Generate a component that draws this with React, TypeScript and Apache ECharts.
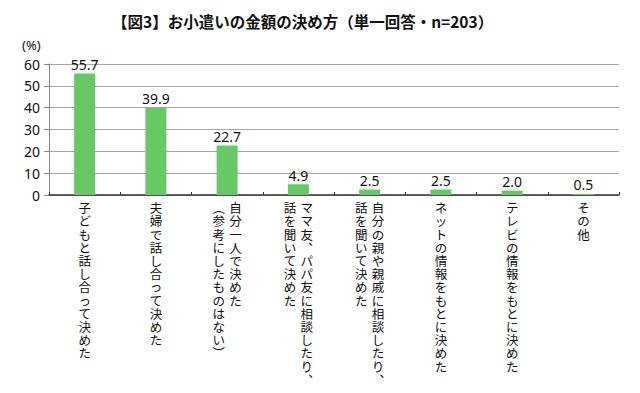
import React, { useEffect, useRef } from "react";
import * as echarts from "echarts";

const titleText = "【図3】お小遣いの金額の決め方（単一回答・n=203）";
const unitLabel = "(%)";
const categories = [
  "子どもと話し合って決めた",
  "夫婦で話し合って決めた",
  "自分一人で決めた\n(参考にしたものはない)",
  "ママ友、パパ友に相談したり、\n話を聞いて決めた",
  "自分の親や親戚に相談したり、\n話を聞いて決めた",
  "ネットの情報をもとに決めた",
  "テレビの情報をもとに決めた",
  "その他",
];
const values = [55.7, 39.9, 22.7, 4.9, 2.5, 2.5, 2.0, 0.5];
const yTicks = { min: 0, max: 60, interval: 10 };

const JP = "'Noto Sans CJK JP', 'Noto Sans', sans-serif";

const verticalForm = (c: string) =>
  c === "、" ? "︑" : c === "(" || c === "（" ? "︵" : c === ")" || c === "）" ? "︶" : c;

function toVertical(label: string): string {
  const cols = label.split("\n").map((s) => Array.from(s).map(verticalForm));
  const n = Math.max(...cols.map((c) => c.length));
  const lines: string[] = [];
  for (let i = 0; i < n; i++) {
    if (cols.length === 1) {
      lines.push(`{c|${cols[0][i]}}`);
    } else {
      const right = cols[0][i] ?? "　";
      const left = cols[1][i] ?? "　";
      lines.push(`{c|${left}}{c|${right}}`);
    }
  }
  return lines.join("\n");
}

export default function App() {
  const ref = useRef<HTMLDivElement>(null);
  useEffect(() => {
    if (!ref.current) return;
    const chart = echarts.init(ref.current, undefined, { renderer: "svg" });
    chart.setOption({
      animation: false,
      backgroundColor: "#ffffff",
      title: {
        text: titleText,
        left: 107,
        top: 8,
        textStyle: { fontFamily: JP, fontSize: 15.5, fontWeight: "bold", color: "#111" },
      },
      graphic: [
        {
          type: "text",
          left: 22,
          top: 38,
          style: { text: unitLabel, fontFamily: "'Noto Sans', sans-serif", fontSize: 13, fill: "#111" },
        },
      ],
      grid: { left: 49, right: 21, top: 64, bottom: 198, containLabel: false },
      xAxis: {
        type: "category",
        data: categories,
        axisLine: { lineStyle: { color: "#333", width: 1.5 } },
        axisTick: { show: true, inside: true, length: 3, lineStyle: { color: "#333" } },
        axisLabel: {
          interval: 0,
          margin: 6,
          formatter: (v: string) => toVertical(v),
          rich: {
            c: {
              width: 17,
              align: "center",
              fontSize: 12.5,
              lineHeight: 13.2,
              fontFamily: JP,
              color: "#111",
            },
          },
        },
      },
      yAxis: {
        type: "value",
        min: yTicks.min,
        max: yTicks.max,
        interval: yTicks.interval,
        axisLine: { show: true, lineStyle: { color: "#888" } },
        axisTick: { show: true, length: 5, lineStyle: { color: "#888" } },
        axisLabel: {
          margin: 9,
          fontSize: 14,
          fontFamily: "'Noto Sans', sans-serif",
          color: "#111",
        },
        splitLine: { lineStyle: { color: "#a6a6a6" } },
      },
      series: [
        {
          type: "bar",
          data: values,
          barWidth: 21,
          itemStyle: { color: "#66c966" },
          label: {
            show: true,
            position: "top",
            distance: 2,
            fontSize: 14,
            fontFamily: "'Noto Sans', sans-serif",
            color: "#111",
            formatter: (p: any) => Number(p.value).toFixed(1),
          },
        },
      ],
    });
    return () => chart.dispose();
  }, []);
  return (
    <div
      ref={ref}
      style={{ position: "fixed", left: 0, top: 0, width: 640, height: 393 }}
    />
  );
}
